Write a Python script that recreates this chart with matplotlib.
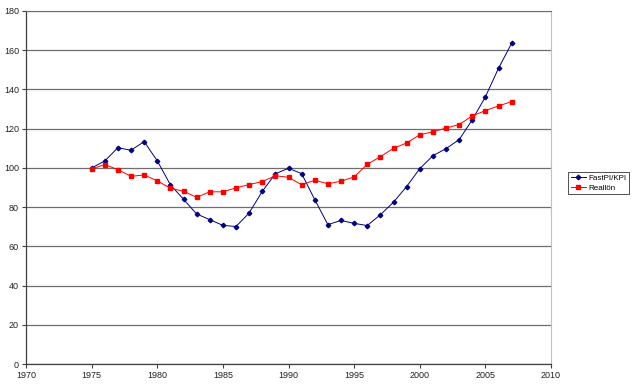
import matplotlib.pyplot as plt

years = list(range(1975, 2008))

fastpi_kpi = [100, 103.5, 110.3, 109, 113.4, 103.6, 91.4, 84, 76.5, 73.6,
              70.7, 70.1, 77, 88, 97, 99.8, 97.1, 83.8, 71.1, 73.2,
              71.7, 70.6, 76.1, 82.5, 90.5, 99.6, 106.2, 109.8, 114.4, 124.5,
              136.2, 150.8, 163.5]

reallon = [99.5, 101.7, 99.1, 95.7, 96.4, 93.4, 89.6, 88.1, 85, 87.8,
           87.8, 89.8, 91.5, 93, 96, 95.2, 91.4, 93.7, 91.9, 93.2,
           95.4, 101.8, 105.7, 110, 112.7, 116.9, 118.4, 120.3, 122.1, 126.5,
           129.2, 131.6, 133.8]

plt.rcParams['font.family'] = ['Liberation Sans', 'DejaVu Sans']

fig = plt.figure(figsize=(6.4, 3.89), dpi=100)
ax = fig.add_axes([26/640, 25/389, (551-26)/640, (364-11)/389])

ax.plot(years, fastpi_kpi, color='#000080', lw=0.7, marker='D', ms=2.3,
        label='FastPI/KPI')
ax.plot(years, reallon, color='#ff0000', lw=0.7, marker='s', ms=2.6,
        label='Reallön')

ax.set_xlim(1970, 2010)
ax.set_ylim(0, 180)
ax.set_xticks(range(1970, 2011, 5))
ax.set_yticks(range(0, 181, 20))
ax.grid(axis='y', color='#6e6e6e', lw=0.9)
ax.set_axisbelow(True)

for side in ['left', 'bottom']:
    ax.spines[side].set_color('#404040')
    ax.spines[side].set_linewidth(0.9)
ax.spines['right'].set_color('#c0c0c0')
ax.spines['top'].set_color('#6e6e6e')
ax.tick_params(labelsize=6.5, length=3, width=0.8, color='#404040',
               labelcolor='#222222', pad=2)

leg = ax.legend(loc='center left', fontsize=5.8, frameon=True,
                fancybox=False, edgecolor='black', handlelength=1.9,
                borderpad=0.35, labelspacing=0.25, handletextpad=0.3,
                borderaxespad=0)
leg.get_frame().set_linewidth(0.6)
leg.set_bbox_to_anchor((568/640, (389-183)/389), transform=fig.transFigure)

fig.savefig('out.png', dpi=100)
